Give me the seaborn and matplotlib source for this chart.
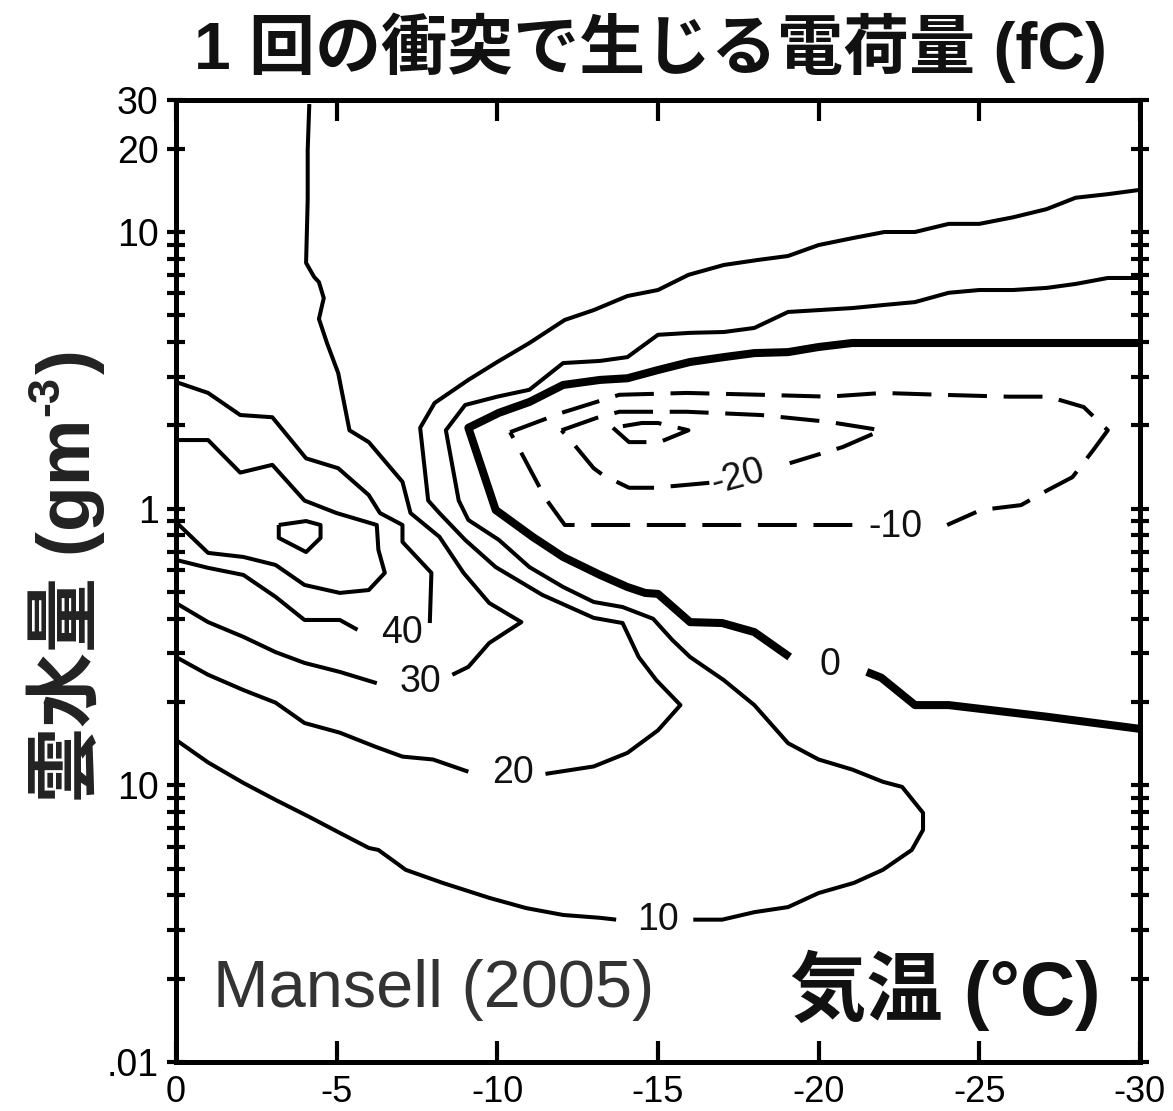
import numpy as np
import pandas as pd
import matplotlib
matplotlib.use("Agg")
import matplotlib.pyplot as plt
from matplotlib.ticker import FixedLocator, FixedFormatter, NullFormatter
import seaborn as sns

t60 = [-3.2, -4.05, -4.5, -4.5, -4.05, -3.2, -3.2]
w60 = [0.873, 0.902, 0.873, 0.784, 0.697, 0.784, 0.873]

t50 = [0, -1.0, -2.0, -3.0, -4.0, -5.0, -6.25, -6.3, -6.5, -6.0, -5.1, -4.0, -3.1, -2.1, -1.0, 0]
w50 = [1.77, 1.77, 1.35, 1.44, 1.07, 0.964, 0.873, 0.710, 0.586, 0.508, 0.496, 0.530, 0.626, 0.669, 0.692, 0.895]

t40a = [0, -1.0, -2.0, -3.0, -4.05, -5.05, -6.0, -6.35, -7.05, -7.05, -7.95, -7.9]
w40a = [2.87, 2.62, 2.18, 2.14, 1.52, 1.40, 1.12, 0.964, 0.873, 0.758, 0.586, 0.386]
t40b = [-5.65, -5.1, -4.0, -3.1, -2.1, -1.0, 0]
w40b = [0.365, 0.396, 0.396, 0.480, 0.576, 0.611, 0.653]

t30a = [-4.15, -4.1, -4.1, -4.05, -4.3, -4.45, -4.6, -4.45, -4.7, -5.05, -5.4, -6.0, -7.05, -7.3,
        -8.2, -8.95, -9.75, -10.75, -9.75, -9.1, -8.6]
w30a = [29.0, 19.8, 13.1, 7.73, 6.88, 6.59, 5.77, 4.85, 3.97, 3.09, 1.92, 1.74, 1.25, 0.964,
        0.791, 0.586, 0.456, 0.389, 0.327, 0.268, 0.251]
t30b = [-6.25, -5.1, -4.0, -3.1, -2.1, -1.0, 0]
w30b = [0.234, 0.257, 0.277, 0.303, 0.344, 0.389, 0.456]

t20a = [-30, -29, -28, -27.1, -26.05, -25, -24.05, -23, -22.05, -21.05, -20, -19.05, -18.1, -17.05,
        -15.95, -15, -14.05, -13, -12.1, -11, -10, -9.1, -8.05, -7.6, -7.85, -8.2, -9.0, -9.95,
        -11.4, -13, -13.9, -14.4, -14.95, -15.7, -15, -14.05, -13, -11.5]
w20a = [14.2, 13.7, 13.3, 12.1, 11.3, 10.7, 10.7, 10.0, 10.0, 9.5, 8.97, 8.19, 7.92, 7.60,
        7.0, 6.17, 5.87, 5.22, 4.81, 3.97, 3.39, 2.92, 2.41, 1.96, 1.07, 0.964, 0.771, 0.615,
        0.488, 0.403, 0.386, 0.291, 0.240, 0.195, 0.158, 0.131, 0.117, 0.110]
t20b = [-9.1, -8.0, -7.05, -6.2, -5.1, -4.0, -3.1, -2.1, -1.0, 0]
w20b = [0.112, 0.124, 0.127, 0.138, 0.155, 0.168, 0.199, 0.221, 0.251, 0.291]

t10a = [-30, -29, -28, -27.1, -26.05, -25, -24.05, -23, -22.05, -21.05, -20, -19.05, -18, -17.05,
        -16, -15, -14.05, -13.2, -12.05, -11, -10, -9.0, -8.4, -8.8, -9.1, -10.05, -11, -12.05,
        -13, -13.9, -14.85, -15.45, -16, -17.05, -18, -19.05, -20, -21.05, -22, -22.6, -23.25,
        -23.25, -22.9, -22, -21.1, -20, -19.05, -18, -17, -16.1]
w10a = [6.82, 6.82, 6.49, 6.28, 6.17, 6.17, 6.03, 5.58, 5.45, 5.31, 5.22, 5.14, 4.50, 4.35,
        4.32, 4.25, 3.53, 3.42, 3.36, 2.69, 2.54, 2.37, 1.92, 1.07, 0.910, 0.771, 0.615, 0.521,
        0.460, 0.441, 0.400, 0.335, 0.291, 0.240, 0.195, 0.142, 0.124, 0.114, 0.103, 0.0987, 0.0795,
        0.0690, 0.0584, 0.0495, 0.0444, 0.0408, 0.0363, 0.0348, 0.0327, 0.0327]
t10b = [-13.7, -13.2, -12.05, -10.9, -9.75, -8.3, -7.15, -6.85, -6.3, -6.0, -5.1, -4.15, -3.1, -2.1, -1.0, 0]
w10b = [0.0327, 0.0332, 0.0340, 0.0360, 0.0392, 0.0444, 0.0495, 0.0525, 0.0584, 0.0594, 0.0673,
        0.0769, 0.0886, 0.102, 0.121, 0.146]

t0a = [-30, -21.05, -20, -19.05, -18, -17.05, -16, -15, -14.05, -13.2, -12.05, -11, -10.05, -9.1,
       -9.95, -11.1, -12.05, -13.2, -14.05, -14.6, -15, -16, -17, -18, -19.1]
w0a = [3.97, 3.97, 3.84, 3.68, 3.65, 3.53, 3.39, 3.17, 2.96, 2.92, 2.80, 2.43, 2.22, 1.96,
       0.989, 0.791, 0.669, 0.576, 0.521, 0.496, 0.492, 0.389, 0.386, 0.358, 0.291]
t0b = [-21.5, -21.95, -23, -24.05, -27.1, -30]
w0b = [0.257, 0.245, 0.195, 0.195, 0.177, 0.16]

tm10a = [-10.4, -12.0, -13.8, -15.9, -18.2, -20.3, -22.0, -23.8, -25.9, -27.15, -28.25, -29.0,
         -28.55, -27.9, -27.15, -26.3, -25.05, -24.0]
wm10a = [1.89, 2.22, 2.58, 2.62, 2.58, 2.54, 2.62, 2.58, 2.54, 2.54, 2.33, 1.92,
         1.63, 1.30, 1.17, 1.03, 0.989, 0.873]
tm10b = [-21.05, -12.1, -11.5, -10.7, -10.4]
wm10b = [0.873, 0.873, 1.09, 1.63, 1.89]

tm20a = [-12.0, -13.1, -13.8, -15.9, -18.2, -20.3, -21.95, -20.75, -19.1]
wm20a = [1.92, 2.13, 2.24, 2.24, 2.18, 2.06, 1.92, 1.67, 1.46]
tm20b = [-16.6, -14.9, -14.1, -13.3, -13.0, -12.4, -12.0]
wm20b = [1.24, 1.19, 1.19, 1.32, 1.40, 1.70, 1.92]

tm30 = [-13.6, -14.1, -15.05, -15.95, -15.0, -14.5, -13.6]
wm30 = [1.96, 1.74, 1.74, 1.92, 2.04, 2.04, 1.96]

label_text = ["40", "30", "20", "10", "0", "-10", "-20"]
label_t = [-7.05, -7.6, -10.5, -15.0, -20.35, -22.4, -17.5]
label_w = [0.356, 0.237, 0.111, 0.0327, 0.272, 0.859, 1.30]
label_rot = [0, 0, 0, 0, 0, 0, 15]

ytick_vals = [0.01, 0.1, 1, 10, 20, 30]
ytick_text = [".01", "10", "1", "10", "20", "30"]
xtick_vals = [0, -5, -10, -15, -20, -25, -30]
xtick_text = ["0", "-5", "-10", "-15", "-20", "-25", "-30"]

segments = [
    ("60", "thin", t60, w60), ("50", "thin", t50, w50),
    ("40a", "thin", t40a, w40a), ("40b", "thin", t40b, w40b),
    ("30a", "thin", t30a, w30a), ("30b", "thin", t30b, w30b),
    ("20a", "thin", t20a, w20a), ("20b", "thin", t20b, w20b),
    ("10a", "thin", t10a, w10a), ("10b", "thin", t10b, w10b),
    ("0a", "zero", t0a, w0a), ("0b", "zero", t0b, w0b),
    ("m10a", "neg", tm10a, wm10a), ("m10b", "neg", tm10b, wm10b),
    ("m20a", "neg", tm20a, wm20a), ("m20b", "neg", tm20b, wm20b),
    ("m30", "neg", tm30, wm30),
]
df = pd.concat(
    [pd.DataFrame({"T": t, "W": w, "seg": name, "kind": kind}) for name, kind, t, w in segments],
    ignore_index=True,
)

sns.set_style("ticks")
plt.rcParams["font.family"] = ["Liberation Sans", "Noto Sans CJK JP"]
plt.rcParams["lines.scale_dashes"] = False
plt.rcParams["lines.solid_capstyle"] = "butt"
plt.rcParams["lines.solid_joinstyle"] = "round"

W_PX, H_PX = 1173, 1111
fig = plt.figure(figsize=(W_PX / 100, H_PX / 100), dpi=100)
ax = fig.add_axes([0.1500, 0.0441, 0.8218, 0.8659])
ax.set_yscale("log")

styles = {
    "thin": dict(linewidth=2.9),
    "zero": dict(linewidth=5.8),
    "neg": dict(linewidth=2.9, linestyle=(0, (28, 12))),
}
for kind, kw in styles.items():
    sns.lineplot(data=df[df["kind"] == kind], x="T", y="W", units="seg", estimator=None,
                 sort=False, color="black", legend=False, ax=ax, **kw)

for txt, t, w, r in zip(label_text, label_t, label_w, label_rot):
    ax.text(t, w, txt, ha="center", va="center", fontsize=27, rotation=r, color="#111111")

ax.set_xlim(0, -30)
ax.set_ylim(0.01, 30)
ax.set_xlabel("")
ax.set_ylabel("")

minor = [k * 10.0 ** e for e in (-2, -1, 0) for k in range(2, 10)]
ax.yaxis.set_major_locator(FixedLocator(ytick_vals))
ax.yaxis.set_major_formatter(FixedFormatter(ytick_text))
ax.yaxis.set_minor_locator(FixedLocator(minor))
ax.yaxis.set_minor_formatter(NullFormatter())
ax.set_xticks(xtick_vals)
ax.set_xticklabels(xtick_text)

ax.tick_params(axis="y", which="both", direction="inout", length=13, width=3,
               left=True, right=True, labelsize=27, pad=6, colors="black")
ax.tick_params(axis="x", which="both", direction="in", length=15, width=3,
               top=True, bottom=True, labelsize=26, pad=9, colors="black")
for s in ax.spines.values():
    s.set_linewidth(3.6)
    s.set_color("black")

fig.text(650 / W_PX, 1 - 48 / H_PX, "1 回の衝突で生じる電荷量 (fC)", ha="center", va="center",
         fontsize=47.5, fontweight="bold", color="#111111")
fig.text(213 / W_PX, 1 - 990 / H_PX, "Mansell (2005)", ha="left", va="center",
         fontsize=48, color="#333333")
fig.text(1100 / W_PX, 1 - 990 / H_PX, "気温 (°C)", ha="right", va="center",
         fontsize=55, fontweight="bold", color="#111111")

# y label: rotated text with a superscript, pieced together along one baseline
ylab_kw = dict(rotation=90, rotation_mode="anchor", ha="left", va="baseline",
               fontweight="bold", color="#222222")
base_x, start_y, ysize = 90, 802, 54
t1 = fig.text(base_x / W_PX, 1 - start_y / H_PX, "雲水量 (gm", fontsize=ysize, **ylab_kw)
fig.canvas.draw()
rend = fig.canvas.get_renderer()
top1 = t1.get_window_extent(rend).y1
raise_px = 0.42 * ysize * 100 / 72
t2 = fig.text((base_x - raise_px) / W_PX, (top1 + 2) / H_PX, "-3", fontsize=ysize * 0.6, **ylab_kw)
top2 = t2.get_window_extent(rend).y1
fig.text(base_x / W_PX, (top2 + 2) / H_PX, ")", fontsize=ysize, **ylab_kw)

fig.savefig("out.png", dpi=100)
